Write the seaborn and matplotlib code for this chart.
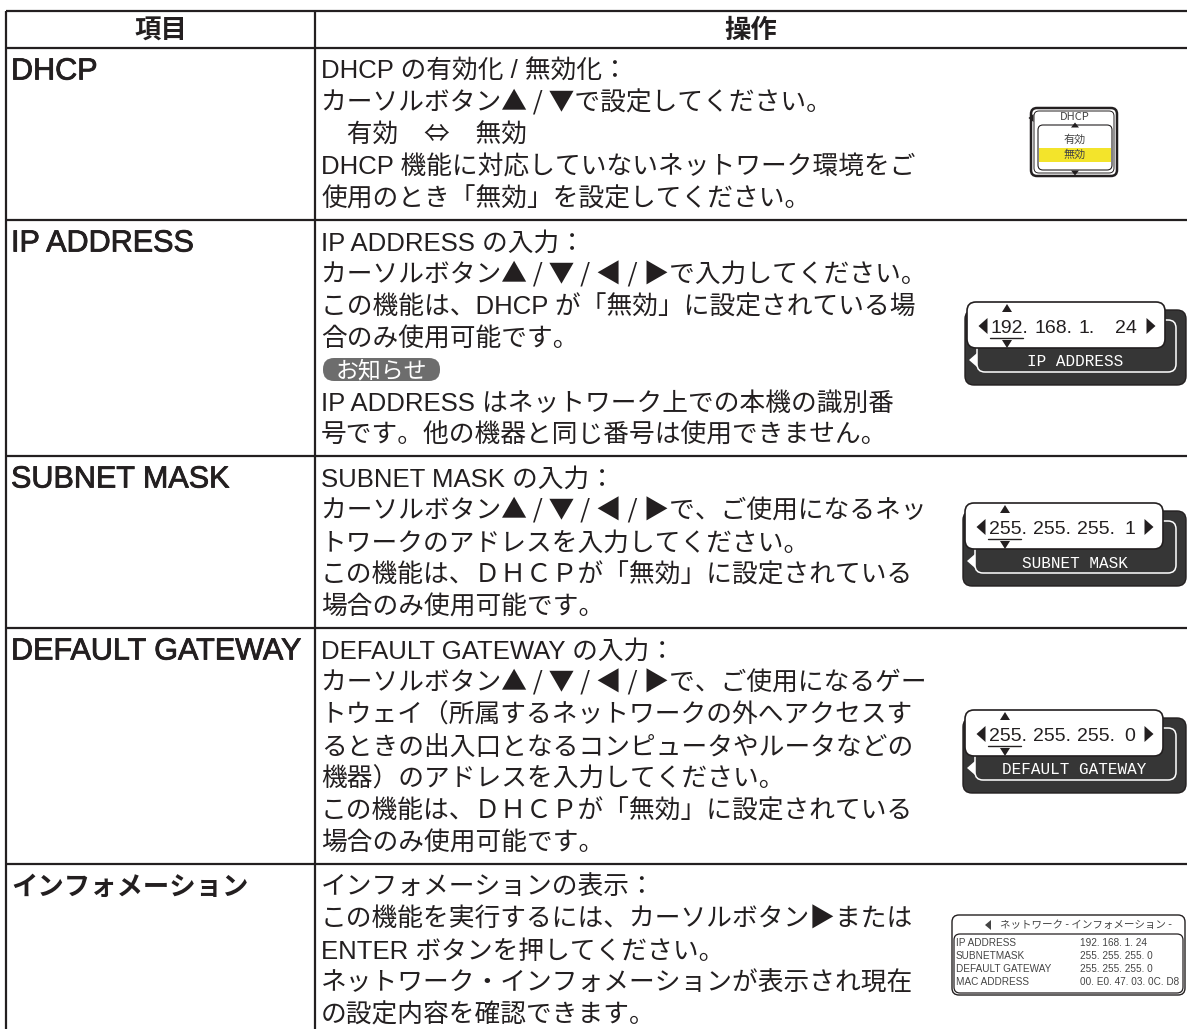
import numpy as np
import matplotlib.pyplot as plt
import matplotlib.patheffects as pe
from matplotlib.patches import FancyBboxPatch, Polygon, Rectangle
import seaborn as sns

# table content
header = ["項目", "操作"]
items = ["DHCP", "IP ADDRESS", "SUBNET MASK", "DEFAULT GATEWAY", "インフォメーション"]

dhcp_lines = ["DHCP の有効化 / 無効化：",
              "カーソルボタン▲ / ▼で設定してください。",
              "　有効　⇔　無効",
              "DHCP 機能に対応していないネットワーク環境をご",
              "使用のとき「無効」を設定してください。"]
ip_lines = ["IP ADDRESS の入力：",
            "カーソルボタン▲ / ▼ / ◀ / ▶で入力してください。",
            "この機能は、DHCP が「無効」に設定されている場",
            "合のみ使用可能です。",
            "お知らせ",
            "IP ADDRESS はネットワーク上での本機の識別番",
            "号です。他の機器と同じ番号は使用できません。"]
subnet_lines = ["SUBNET MASK の入力：",
                "カーソルボタン▲ / ▼ / ◀ / ▶で、ご使用になるネッ",
                "トワークのアドレスを入力してください。",
                "この機能は、ＤＨＣＰが「無効」に設定されている",
                "場合のみ使用可能です。"]
gateway_lines = ["DEFAULT GATEWAY の入力：",
                 "カーソルボタン▲ / ▼ / ◀ / ▶で、ご使用になるゲー",
                 "トウェイ（所属するネットワークの外へアクセスす",
                 "るときの出入口となるコンピュータやルータなどの",
                 "機器）のアドレスを入力してください。",
                 "この機能は、ＤＨＣＰが「無効」に設定されている",
                 "場合のみ使用可能です。"]
info_lines = ["インフォメーションの表示：",
              "この機能を実行するには、カーソルボタン▶または",
              "ENTER ボタンを押してください。",
              "ネットワーク・インフォメーションが表示され現在",
              "の設定内容を確認できます。"]
ops = [dhcp_lines, ip_lines, subnet_lines, gateway_lines, info_lines]
note_label = "お知らせ"

# on-screen menus shown at the right
dhcp_menu = ["DHCP", "有効", "無効"]
ip_fields = ["192.", "168.", "1.", "24"]
subnet_fields = ["255.", "255.", "255.", "1"]
gateway_fields = ["255.", "255.", "255.", "0"]
panel_titles = ["IP ADDRESS", "SUBNET MASK", "DEFAULT GATEWAY"]
info_title = "ネットワーク - インフォメーション -"
info_keys = ["IP ADDRESS", "SUBNETMASK", "DEFAULT GATEWAY", "MAC ADDRESS"]
info_values = ["192. 168. 1. 24", "255. 255. 255. 0", "255. 255. 255. 0", "00. E0. 47. 03. 0C. D8"]

sns.set_theme(style="white")
plt.rcParams["font.family"] = ["Noto Sans CJK JP", "DejaVu Sans"]
cjk = ["Noto Sans CJK JP", "DejaVu Sans"]
mixed = ["Liberation Sans", "Noto Sans CJK JP", "DejaVu Sans"]
latin = ["Liberation Sans", "DejaVu Sans"]
mono = ["Liberation Mono", "DejaVu Sans Mono"]

W, H = 1187, 1029
fig = plt.figure(figsize=(W / 100, H / 100), dpi=100)
ax = fig.add_axes([0, 0, 1, 1])
ax.set_xlim(0, W)
ax.set_ylim(H, 0)
ax.axis("off")

ink = "#231f20"
pitch = 32
x_left, x_div = 6, 315
y_top, y_head = 11, 48
row_h = [len(l) * pitch + 12 for l in ops]
bounds = y_head + np.concatenate([[0], np.cumsum(row_h)])

# grid
ax.hlines([y_top, y_head], x_left, W, color=ink, lw=1.6)
ax.hlines(bounds[1:], x_left, W, color=ink, lw=1.6)
ax.vlines([x_left, x_div], y_top, H, color=ink, lw=1.6)

ax.text((x_left + x_div) / 2, 29 + 9, header[0], ha="center", va="baseline",
        fontsize=19, fontweight="bold", color=ink)
ax.text((x_div + W) / 2, 29 + 9, header[1], ha="center", va="baseline",
        fontsize=19, fontweight="bold", color=ink)

thick = [pe.withStroke(linewidth=0.6, foreground=ink)]
for i, (item, lines) in enumerate(zip(items, ops)):
    y0 = bounds[i] + 21
    if item.isascii():
        ax.text(11, y0 + 10.5, item, ha="left", va="baseline", fontsize=22,
                family=latin, color=ink, path_effects=thick)
    else:
        ax.text(11, y0 + 10, item, ha="left", va="baseline", fontsize=19,
                fontweight="bold", color=ink)
    for j, line in enumerate(lines):
        y = y0 + j * pitch
        if line == note_label:
            ax.add_patch(FancyBboxPatch((323, y - 11), 117, 23,
                                        boxstyle="round,pad=0,rounding_size=11",
                                        fc="#6d6d6d", ec="none"))
            ax.text(381, y + 8, line, ha="center", va="baseline", fontsize=16.5, color="white")
        else:
            fam = cjk if any(c in line for c in "▲▼⇔") else mixed
            ax.text(321, y + 9.8, line, ha="left", va="baseline", fontsize=18.5,
                    family=fam, color=ink)


def tri(cx, cy, w, h, d, color=ink, z=6):
    if d == "up":
        pts = [(cx - w / 2, cy + h / 2), (cx + w / 2, cy + h / 2), (cx, cy - h / 2)]
    elif d == "down":
        pts = [(cx - w / 2, cy - h / 2), (cx + w / 2, cy - h / 2), (cx, cy + h / 2)]
    elif d == "left":
        pts = [(cx + w / 2, cy - h / 2), (cx + w / 2, cy + h / 2), (cx - w / 2, cy)]
    else:
        pts = [(cx - w / 2, cy - h / 2), (cx - w / 2, cy + h / 2), (cx + w / 2, cy)]
    ax.add_patch(Polygon(pts, closed=True, fc=color, ec="none", zorder=z))


# DHCP menu icon
ax.add_patch(FancyBboxPatch((1031, 108), 86, 68, boxstyle="round,pad=0,rounding_size=6",
                            fc="white", ec=ink, lw=1.8, zorder=2))
ax.add_patch(FancyBboxPatch((1034, 111), 80, 62, boxstyle="round,pad=0,rounding_size=5",
                            fc="none", ec=ink, lw=0.7, zorder=3))
tri(1031, 118, 5, 8, "left")
ax.text(1075, 117, dhcp_menu[0], ha="center", va="center", fontsize=8, color="#444444", zorder=5)
ax.add_patch(FancyBboxPatch((1038, 125), 74, 45, boxstyle="round,pad=0,rounding_size=5",
                            fc="white", ec=ink, lw=0.8, zorder=4))
ax.add_patch(Rectangle((1039, 148), 72, 14, fc="#f3e42b", ec="none", zorder=5))
ax.text(1075, 140, dhcp_menu[1], ha="center", va="center", fontsize=8, color="#444444", zorder=6)
ax.text(1075, 155, dhcp_menu[2], ha="center", va="center", fontsize=8, color="#444444", zorder=6)
tri(1075, 125, 8, 5, "up")
tri(1075, 173, 8, 5, "down")


# address entry panels
def entry_panel(x0, y0, fields, title):
    ax.add_patch(FancyBboxPatch((x0 - 2, y0 + 8), 1186 - (x0 - 2), 75,
                                boxstyle="round,pad=0,rounding_size=9",
                                fc="#363636", ec=ink, lw=1, zorder=2))
    ax.add_patch(FancyBboxPatch((x0 + 10, y0 + 18), 1176 - (x0 + 10), 52,
                                boxstyle="round,pad=0,rounding_size=8",
                                fc="none", ec="white", lw=1.1, zorder=3))
    tri(x0 + 6, y0 + 58, 8, 14, "left", color="white", z=4)
    ax.add_patch(FancyBboxPatch((x0, y0), 198, 46, boxstyle="round,pad=0,rounding_size=9",
                                fc="white", ec=ink, lw=1.2, zorder=4))
    cy = y0 + 24
    tri(x0 + 16, cy, 9, 16, "left")
    tri(x0 + 184, cy, 9, 16, "right")
    tri(x0 + 40, y0 + 6, 10, 8, "up")
    tri(x0 + 40, y0 + 42, 10, 8, "down")
    ax.plot([x0 + 23, x0 + 56], [y0 + 36, y0 + 36], color=ink, lw=1, zorder=6)
    for k, f in enumerate(fields[:3]):
        ax.text(x0 + 24 + k * 44, cy + 7, f, ha="left", va="baseline", fontsize=14,
                family=latin, color=ink, zorder=6)
    ax.text(x0 + 170, cy + 7, fields[3], ha="right", va="baseline", fontsize=14,
            family=latin, color=ink, zorder=6)
    ax.text((x0 + 1176) / 2 + 4, y0 + 60, title, ha="center", va="center",
            fontsize=11.5, family=mono, color="white", zorder=6)


entry_panel(967, 302, ip_fields, panel_titles[0])
entry_panel(965, 503, subnet_fields, panel_titles[1])
entry_panel(965, 710, gateway_fields, panel_titles[2])

# network information panel
ax.add_patch(FancyBboxPatch((952, 915), 233, 80, boxstyle="round,pad=0,rounding_size=7",
                            fc="white", ec=ink, lw=1, zorder=2))
ax.add_patch(FancyBboxPatch((954, 934), 229, 59, boxstyle="round,pad=0,rounding_size=6",
                            fc="none", ec=ink, lw=0.9, zorder=3))
tri(988, 925, 6, 10, "left", color="#444444")
ax.text(1000, 925, info_title, ha="left", va="center", fontsize=7.6, color="#444444", zorder=5)
for k, (key, val) in enumerate(zip(info_keys, info_values)):
    yy = 943 + k * 13
    ax.text(956, yy, key, ha="left", va="center", fontsize=7.2, family=latin,
            color="#444444", zorder=5)
    ax.text(1080, yy, val, ha="left", va="center", fontsize=7.2, family=latin,
            color="#444444", zorder=5)

fig.savefig("out.png", dpi=100, facecolor="white")
